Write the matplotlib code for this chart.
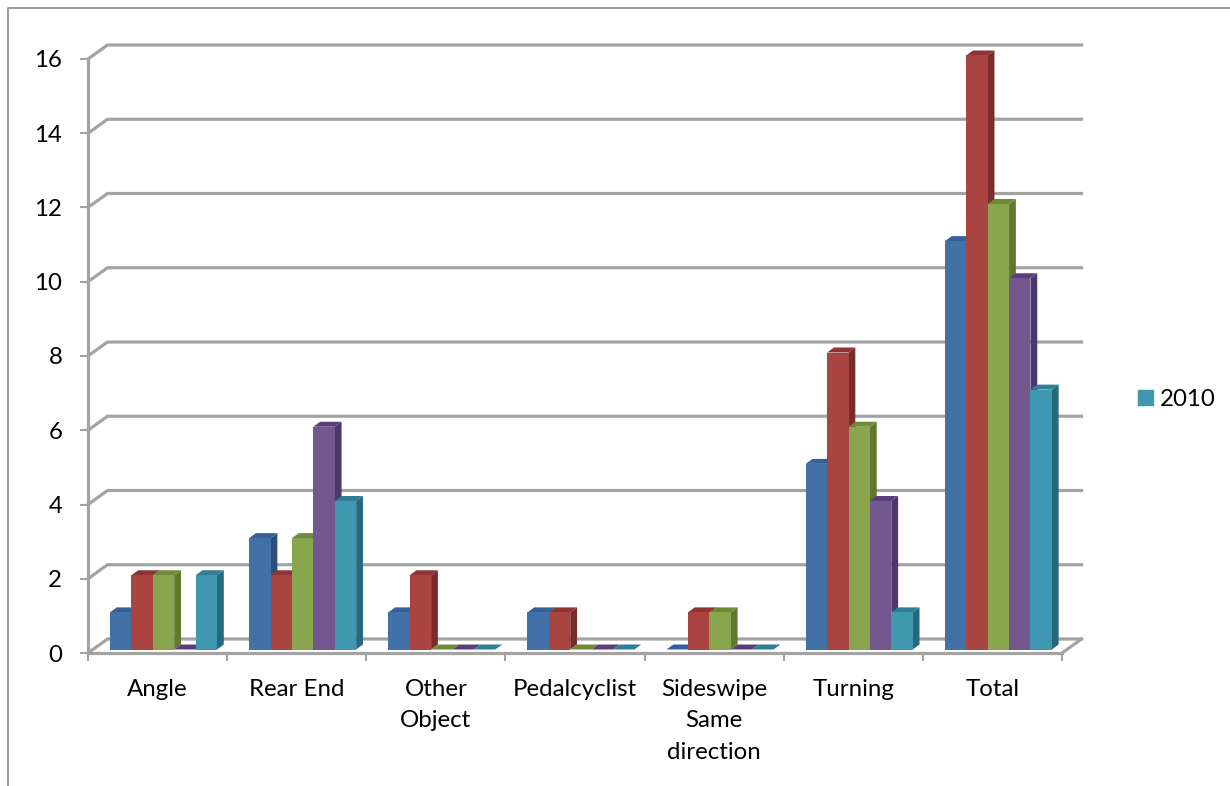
import matplotlib
matplotlib.use("Agg")
import matplotlib.pyplot as plt
from matplotlib.lines import Line2D
from matplotlib.patches import Patch

plt.rcParams['font.family'] = ['Lato', 'DejaVu Sans']

categories = ["Angle", "Rear End", "Other\nObject", "Pedalcyclist",
              "Sideswipe\nSame\ndirection", "Turning", "Total"]
series_a = [1, 3, 1, 1, 0, 5, 11]
series_b = [2, 2, 2, 1, 1, 8, 16]
series_c = [2, 3, 0, 0, 1, 6, 12]
series_d = [0, 6, 0, 0, 0, 4, 10]
series_2010 = [2, 4, 0, 0, 0, 1, 7]
y_ticks = [0, 2, 4, 6, 8, 10, 12, 14, 16]
legend_label = "2010"

all_series = [series_a, series_b, series_c, series_d, series_2010]
front_colors = ['#4271a8', '#aa4441', '#89a64e', '#73578f', '#4098b0']
side_colors = ['#2d4e78', '#7a2c2b', '#5f7a2c', '#4c3768', '#246a7c']
top_colors = ['#35609a', '#8f3432', '#6f8a38', '#5a3f7d', '#2e7f96']

W, H = 1230, 786
L, R, B, T = 88, 1062, 653, 59
FS = 17.3
fig = plt.figure(figsize=(W / 100, H / 100), dpi=100, facecolor='white')
ax = fig.add_axes([L / W, (H - B) / H, (R - L) / W, (B - T) / H])
ax.set_xlim(0, len(categories))
ax.set_ylim(0, 16)
ax.patch.set_visible(False)

px_x = len(categories) / (R - L)   # data units per pixel, horizontally
px_y = 16 / (B - T)                # data units per pixel, vertically
GRID = '#a3a3a3'
LW3 = 2.3

# back wall and floor
wall_dx, wall_dy = 19.5 * px_x, 14 * px_y
n = len(categories)
for v in y_ticks:
    ax.plot([0, wall_dx, n + wall_dx], [v, v + wall_dy, v + wall_dy],
            color=GRID, lw=LW3, clip_on=False, zorder=1, solid_joinstyle='round')
ax.plot([n, n + wall_dx], [0, wall_dy], color=GRID, lw=LW3, clip_on=False, zorder=1)

# bars with a small depth
bar_w = 21.4 * px_x
start = 22 * px_x
lift = 3.5 * px_y
depth_x, depth_y = 6.8 * px_x, 5 * px_y
z = 3
for c in range(n):
    for s, vals in enumerate(all_series):
        v = vals[c]
        x0 = c + start + s * bar_w
        x1 = x0 + bar_w
        y0 = lift
        y1 = v + lift
        ax.fill([x1, x1 + depth_x, x1 + depth_x, x1],
                [y0, y0 + depth_y, y1 + depth_y, y1],
                color=side_colors[s], lw=0, clip_on=False, zorder=z)
        ax.fill([x0, x0 + depth_x, x1 + depth_x, x1],
                [y1, y1 + depth_y, y1 + depth_y, y1],
                color=top_colors[s], lw=0, clip_on=False, zorder=z)
        ax.bar(x0, v, width=bar_w, bottom=lift, align='edge',
               color=front_colors[s], lw=0, clip_on=False, zorder=z + 0.5)
        z += 1

# axes
for name in ('top', 'right'):
    ax.spines[name].set_visible(False)
for name in ('left', 'bottom'):
    ax.spines[name].set_color(GRID)
    ax.spines[name].set_linewidth(LW3)
    ax.spines[name].set_zorder(2)
ax.set_yticks(y_ticks)
ax.set_xticks(range(n + 1))
ax.set_xticklabels([])
ax.set_xticks([i + 0.5 for i in range(n)], minor=True)
ax.set_xticklabels(categories, minor=True, fontsize=FS, color='black',
                   linespacing=1.63, va='top')
ax.tick_params(axis='x', which='major', length=6, width=1.5, color=GRID)
ax.tick_params(axis='x', which='minor', length=0, pad=18.5)
ax.tick_params(axis='y', length=6, width=1.5, color=GRID, pad=12.5,
               labelsize=FS, labelcolor='black')

# legend
ax.legend(handles=[Patch(color=front_colors[4], label=legend_label)],
          loc='center left', bbox_to_anchor=(1138 / W, 1 - 399.5 / H),
          bbox_transform=fig.transFigure, frameon=False, fontsize=FS,
          handlelength=0.62, handleheight=0.62, handletextpad=0.3,
          borderpad=0, borderaxespad=0)

# outer frame, cropped on the right and at the bottom
fig.add_artist(Line2D([8 / W, 8 / W, 1], [0, 1 - 7.5 / H, 1 - 7.5 / H],
                      color='#8a8a8a', lw=1.2))

fig.savefig('out.png', dpi=100, facecolor='white')
